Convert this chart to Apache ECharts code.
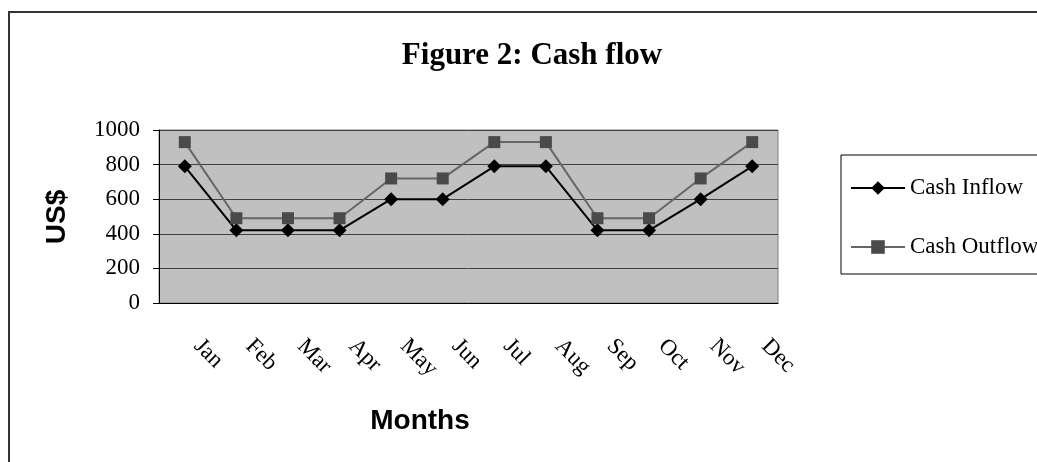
<!DOCTYPE html>
<html>
<head>
<meta charset="utf-8">
<script src="https://cdn.jsdelivr.net/npm/echarts@6/dist/echarts.min.js"></script>
<style>
  html, body { margin: 0; padding: 0; background: #fff; }
  #main { width: 1037px; height: 462px; }
</style>
</head>
<body>
<div id="main"></div>
<script>
var months = ['Jan', 'Feb', 'Mar', 'Apr', 'May', 'Jun', 'Jul', 'Aug', 'Sep', 'Oct', 'Nov', 'Dec'];
var cashInflow = [790, 420, 420, 420, 600, 600, 790, 790, 420, 420, 600, 790];
var cashOutflow = [930, 490, 490, 490, 720, 720, 930, 930, 490, 490, 720, 930];

var serif = '"Liberation Serif", "Times New Roman", serif';
var sans = '"Liberation Sans", Arial, sans-serif';

var chart = echarts.init(document.getElementById('main'));

var option = {
    animation: false,
    backgroundColor: '#fff',
    grid: {
        left: 159,
        right: 259,
        top: 130,
        bottom: 159,
        show: true,
        backgroundColor: '#c0c0c0',
        borderColor: '#808080',
        borderWidth: 1
    },
    legend: {
        orient: 'vertical',
        left: 845,
        top: 170,
        itemWidth: 54,
        itemHeight: 17,
        itemGap: 33,
        textStyle: { fontFamily: serif, fontSize: 23, color: '#000', lineHeight: 26 },
        data: ['Cash Inflow', 'Cash Outflow']
    },
    xAxis: {
        type: 'category',
        data: months,
        boundaryGap: true,
        axisLine: { lineStyle: { color: '#000', width: 1 } },
        axisTick: { length: 7, lineStyle: { color: '#000' } },
        axisLabel: {
            rotate: -45,
            margin: 27,
            padding: [0, 0, 0, 18],
            fontFamily: serif,
            fontSize: 23,
            color: '#000'
        }
    },
    yAxis: {
        type: 'value',
        min: 0,
        max: 1000,
        interval: 200,
        axisLine: { show: true, lineStyle: { color: '#000', width: 1 } },
        axisTick: { show: true, length: 6, lineStyle: { color: '#000' } },
        axisLabel: {
            margin: 19,
            fontFamily: serif,
            fontSize: 23,
            color: '#000',
            formatter: function (v) { return String(v); }
        },
        splitLine: { lineStyle: { color: '#404040', width: 1 } }
    },
    series: [
        {
            name: 'Cash Inflow',
            type: 'line',
            data: cashInflow,
            symbol: 'diamond',
            symbolSize: 14,
            lineStyle: { color: '#000', width: 2 },
            itemStyle: { color: '#000' }
        },
        {
            name: 'Cash Outflow',
            type: 'line',
            data: cashOutflow,
            symbol: 'rect',
            symbolSize: 12,
            lineStyle: { color: '#666', width: 2 },
            itemStyle: { color: '#4a4a4a' }
        }
    ],
    graphic: [
        {
            type: 'rect',
            silent: true,
            shape: { x: 9, y: 12, width: 1100, height: 500 },
            style: { fill: 'none', stroke: '#333', lineWidth: 2 }
        },
        {
            type: 'rect',
            silent: true,
            shape: { x: 841, y: 155, width: 300, height: 119 },
            style: { fill: 'none', stroke: '#000', lineWidth: 1 }
        },
        {
            type: 'text',
            silent: true,
            x: 532,
            y: 56,
            style: {
                text: 'Figure 2: Cash flow',
                fontFamily: serif,
                fontWeight: 'bold',
                fontSize: 31,
                fill: '#000',
                textAlign: 'center',
                textVerticalAlign: 'middle'
            }
        },
        {
            type: 'text',
            silent: true,
            x: 420,
            y: 421,
            style: {
                text: 'Months',
                fontFamily: sans,
                fontWeight: 'bold',
                fontSize: 28,
                fill: '#000',
                textAlign: 'center',
                textVerticalAlign: 'middle'
            }
        },
        {
            type: 'text',
            silent: true,
            x: 57,
            y: 217,
            rotation: Math.PI / 2,
            style: {
                text: 'US$',
                fontFamily: sans,
                fontWeight: 'bold',
                fontSize: 28,
                fill: '#000',
                textAlign: 'center',
                textVerticalAlign: 'middle'
            }
        }
    ]
};

chart.setOption(option);
</script>
</body>
</html>
